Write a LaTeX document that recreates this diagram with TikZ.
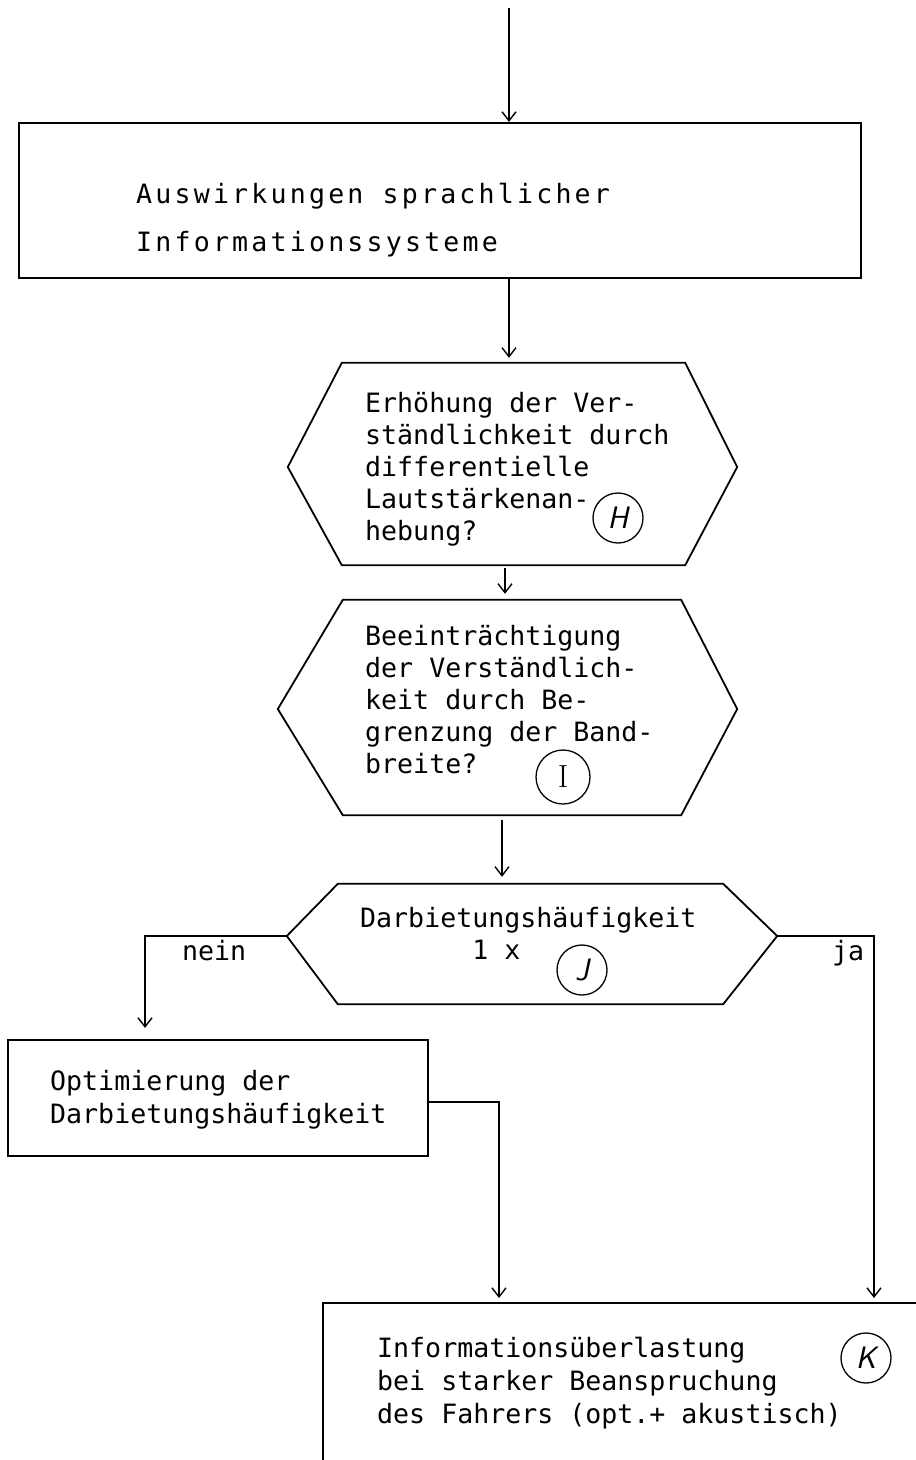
\documentclass[tikz,border=0pt]{standalone}
\usepackage{fontspec}
\newfontfamily\schreib{DejaVu Sans Mono}
\newfontfamily\schreibweit[LetterSpace=12]{DejaVu Sans Mono}
\usetikzlibrary{arrows.meta,positioning}

\tikzset{
  kasten/.style={draw, line width=2.2pt, inner sep=0pt},
  sechs/.style={inner sep=0pt},
  rand/.style={line width=1.8pt, line join=miter},
  schrift/.style={font=\schreib\fontsize{26.6}{32}\selectfont, align=left, inner sep=0pt},
  pfeil/.style={-{Straight Barb[length=9pt,width=14pt]}, line width=1.4pt},
  kreis/.style={draw, circle, line width=1.3pt, minimum size=50pt, inner sep=0pt, font=\sffamily\itshape\fontsize{31}{31}\selectfont},
}

% hexagon around a rectangle node: name, left tip, right tip, tip height
\newcommand\hexa[4]{%
  \coordinate (#1-l) at ([shift={(-#2,#4)}]#1.west);
  \coordinate (#1-r) at ([shift={(#3,#4)}]#1.east);
  \draw[rand] (#1.north west) -- (#1.north east) -- (#1-r) -- (#1.south east)
    -- (#1.south west) -- (#1-l) -- cycle;}

\begin{document}
\begin{tikzpicture}[x=1pt, y=-1pt]
\useasboundingbox (0,0) rectangle (916,1460);
\clip (0,0) rectangle (916,1460);

\coordinate (anfang) at (509,8);

% boxes
\node[kasten, minimum width=842pt, minimum height=155pt] (box1) at (440,200.5) {};
\node[schrift, font=\schreibweit\fontsize{26.6}{48}\selectfont, anchor=west] (t1) at (136,220) {Auswirkungen sprachlicher\\Informationssysteme};

\node[sechs, minimum width=343pt, minimum height=202pt] (hex1) at (513.5,464) {};
\hexa{hex1}{54}{52}{3}
\node[schrift, anchor=west] (t2) at (365,469) {Erhöhung der Ver-\\ständlichkeit durch\\differentielle\\Lautstärkenan-\\hebung?};
\node[kreis] (kh) at (618,518) {H};

\node[sechs, minimum width=338pt, minimum height=215pt] (hex2) at (512,707.5) {};
\hexa{hex2}{65}{56}{1.5}
\node[schrift, anchor=west] (t3) at (365,700) {Beeinträchtigung\\der Verständlich-\\keit durch Be-\\grenzung der Band-\\breite?};
\node[kreis, minimum size=54pt, font=\rmfamily\fontsize{32}{32}\selectfont] (ki) at (563,777) {I};

\node[sechs, minimum width=385pt, minimum height=120pt] (hex3) at (530.5,944) {};
\hexa{hex3}{51}{54}{-8}
\node[schrift, anchor=west] (t4) at (360,934) {Darbietungshäufigkeit\\\phantom{Darbiet}1 x};
\node[kreis] (kj) at (582,970) {J};
\node[schrift, anchor=base west] (nein) at (182,960) {nein};
\node[schrift, anchor=base west] (ja) at (832,960) {ja};

\node[kasten, minimum width=420pt, minimum height=116pt] (box2) at (218,1098) {};
\node[schrift, font=\schreib\fontsize{26.6}{33}\selectfont, anchor=west] (t5) at (50,1099.5) {Optimierung der\\Darbietungshäufigkeit};

\node[kasten, anchor=north west, minimum width=700pt, minimum height=300pt] (boxK) at (322,1302) {};
\node[schrift, font=\schreib\fontsize{26.6}{33}\selectfont, anchor=west] (t6) at (377,1383.5) {Informationsüberlastung\\bei starker Beanspruchung\\des Fahrers (opt.+ akustisch)};
\node[kreis] (kk) at (866,1358) {K};

% arrows
\draw[pfeil] (anfang) -- (anfang |- box1.north);
\draw[pfeil, shorten >=5pt] (box1.south -| anfang) -- (hex1.north -| anfang);
\draw[pfeil, shorten <=3pt, shorten >=6pt] ([xshift=-8.5pt]hex1.south) -- ([xshift=-8.5pt]hex1.south |- hex2.north);
\draw[pfeil, shorten <=5pt, shorten >=7pt] ([xshift=-10pt]hex2.south) -- ([xshift=-10pt]hex2.south |- hex3.north);
\draw[pfeil, shorten >=11pt] (hex3-l) -| ([xshift=-73pt]box2.north);
\draw[pfeil, shorten >=4pt] (hex3-r) -| ([xshift=552pt]boxK.north west);
\draw[pfeil, shorten >=4pt] ([yshift=-4pt]box2.east) -| ([xshift=177pt]boxK.north west);
\end{tikzpicture}
\end{document}
